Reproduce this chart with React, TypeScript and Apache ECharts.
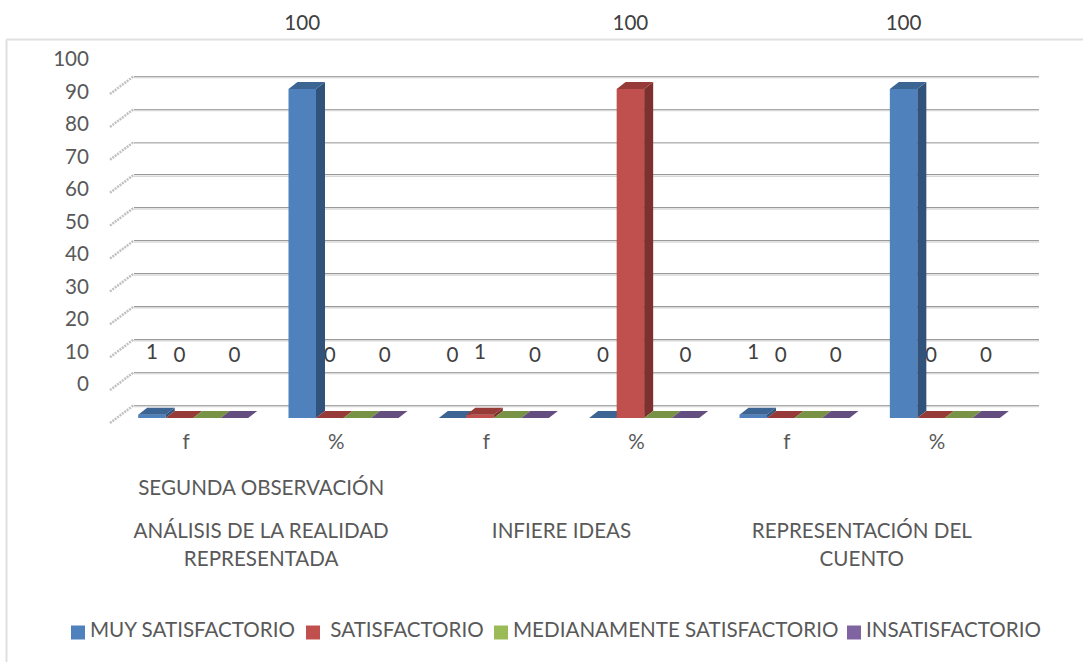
import React, { useEffect, useRef } from "react";
import * as echarts from "echarts";

const subCategories = ["f", "%", "f", "%", "f", "%"];
const groupLabels = ["ANÁLISIS DE LA REALIDAD\nREPRESENTADA", "INFIERE IDEAS", "REPRESENTACIÓN DEL\nCUENTO"];
const observationLabels = ["SEGUNDA OBSERVACIÓN", "", ""];
const yTicks = [0, 10, 20, 30, 40, 50, 60, 70, 80, 90, 100];

const muySatisfactorio = [1, 100, 0, 0, 1, 100];
const satisfactorio = [0, 0, 1, 100, 0, 0];
const medianamente = [0, 0, 0, 0, 0, 0];
const insatisfactorio = [0, 0, 0, 0, 0, 0];

const seriesNames = ["MUY SATISFACTORIO", " SATISFACTORIO", "MEDIANAMENTE SATISFACTORIO", "INSATISFACTORIO"];
const seriesValues = [muySatisfactorio, satisfactorio, medianamente, insatisfactorio];
const frontColors = ["#4F81BD", "#C0504D", "#9BBB59", "#8064A2"];
const sideColors = ["#31527B", "#7D302E", "#65793A", "#533F6B"];
const topColors = ["#3C6594", "#963B38", "#789346", "#644E80"];
const seriesHasLabels = [true, true, false, true];
const legendLefts = [66, 301, 489, 842];

const FONT = "Lato";
const BAR_W = 27.5;
const DX = 9;
const DY = 7;
const LABEL_LIFT = 64;

const barSeries = (si: number) => ({
  type: "custom",
  name: seriesNames[si],
  xAxisIndex: 0,
  yAxisIndex: 0,
  z: 5,
  itemStyle: { color: frontColors[si] },
  data: seriesValues[si].map((v, i) => [i, v]),
  renderItem: (_p: any, api: any) => {
    const [cx, top] = api.coord([api.value(0), api.value(1)]);
    const [, base] = api.coord([api.value(0), 0]);
    const x = cx - 2 * BAR_W + si * BAR_W;
    const w = BAR_W;
    const children: any[] = [];
    if (base - top > 0.5) {
      children.push({
        type: "rect",
        shape: { x, y: top, width: w, height: base - top },
        style: { fill: frontColors[si] },
      });
      children.push({
        type: "polygon",
        shape: { points: [[x + w, top], [x + w + DX, top - DY], [x + w + DX, base - DY], [x + w, base]] },
        style: { fill: sideColors[si] },
      });
    }
    children.push({
      type: "polygon",
      shape: { points: [[x, top], [x + DX, top - DY], [x + w + DX, top - DY], [x + w, top]] },
      style: { fill: topColors[si] },
    });
    return { type: "group", children };
  },
});

const labelSeries = (si: number) => ({
  type: "custom",
  xAxisIndex: 0,
  yAxisIndex: 0,
  z: 3,
  silent: true,
  data: seriesValues[si].map((v, i) => [i, v]),
  renderItem: (_p: any, api: any) => {
    const v = api.value(1);
    const [cx, top] = api.coord([api.value(0), v]);
    const x = cx - 2 * BAR_W + si * BAR_W + BAR_W / 2;
    return {
      type: "text",
      style: {
        x,
        y: top - LABEL_LIFT - (v === 100 ? 3 : 0),
        text: String(v),
        fill: "#404040",
        font: `20.6px ${FONT}`,
        align: "center",
        verticalAlign: "middle",
      },
    };
  },
});

const wallSeries = {
  type: "custom",
  xAxisIndex: 1,
  yAxisIndex: 1,
  z: 1,
  silent: true,
  data: yTicks.map((t) => [0, t]),
  renderItem: (params: any, api: any) => {
    const [, y] = api.coord([0, api.value(1)]);
    const x0 = params.coordSys.x;
    const x1 = x0 + params.coordSys.width;
    return {
      type: "group",
      children: [
        {
          type: "line",
          shape: { x1: x0, y1: y + 1.5, x2: x1, y2: y + 1.5 },
          style: { stroke: "#d8d8d8", lineWidth: 1.5 },
        },
        {
          type: "line",
          shape: { x1: x0 - 24, y1: y + 18, x2: x0, y2: y },
          style: { stroke: "#c0c0c0", lineWidth: 2.5, lineDash: [2, 1] },
        },
      ],
    };
  },
};

const hiddenAxis = { show: false };
const textStyle = { fontFamily: FONT, fontSize: 20.6, color: "#595959" };

export default function App() {
  const ref = useRef<HTMLDivElement>(null);
  useEffect(() => {
    document.body.style.margin = "0";
    const chart = echarts.init(ref.current!, undefined, { renderer: "svg" });
    chart.setOption({
      animation: false,
      backgroundColor: "#fff",
      grid: [
        { left: 118, width: 902, top: 89, height: 329 },
        { left: 134, width: 905, top: 76, height: 329 },
        { left: 40, width: 49, top: 58, height: 325 },
        { left: 111, width: 901, top: 418, height: 1 },
      ],
      xAxis: [
        { gridIndex: 0, type: "category", data: subCategories, ...hiddenAxis },
        { gridIndex: 1, type: "category", data: subCategories, ...hiddenAxis },
        { gridIndex: 2, type: "category", data: subCategories, ...hiddenAxis },
        {
          gridIndex: 3, type: "category", data: subCategories, position: "bottom",
          axisLine: { show: false }, axisTick: { show: false },
          axisLabel: { ...textStyle, margin: 11, interval: 0 },
        },
        {
          gridIndex: 3, type: "category", data: observationLabels, position: "bottom", offset: 57,
          axisLine: { show: false }, axisTick: { show: false },
          axisLabel: { ...textStyle, margin: 0, interval: 0 },
        },
        {
          gridIndex: 3, type: "category", data: groupLabels, position: "bottom", offset: 97,
          axisLine: { show: false }, axisTick: { show: false },
          axisLabel: { ...textStyle, margin: 0, interval: 0, lineHeight: 28 },
        },
      ],
      yAxis: [
        { gridIndex: 0, type: "value", min: 0, max: 100, ...hiddenAxis },
        {
          gridIndex: 1, type: "value", min: 0, max: 100, interval: 10,
          axisLine: { show: false }, axisTick: { show: false }, axisLabel: { show: false },
          splitLine: { show: true, lineStyle: { color: "#9a9a9a", width: 1 } },
        },
        {
          gridIndex: 2, type: "value", min: 0, max: 100, interval: 10, position: "right",
          axisLine: { show: false }, axisTick: { show: false }, splitLine: { show: false },
          axisLabel: { ...textStyle, inside: true, margin: 0 },
        },
        { gridIndex: 3, type: "value", ...hiddenAxis },
      ],
      legend: seriesNames.map((n, i) => ({
        data: [n],
        left: legendLefts[i],
        top: 613,
        icon: "rect",
        itemWidth: 14,
        itemHeight: 14,
        selectedMode: false,
        formatter: (name: string) => `{a|${name}}`,
        textStyle: {
          ...textStyle,
          rich: { a: { fontFamily: FONT, fontSize: 20.6, color: "#595959", padding: [0, 0, 8, 0] } },
        },
      })),
      graphic: [
        { type: "line", shape: { x1: 6.5, y1: 39.5, x2: 1083, y2: 39.5 }, style: { stroke: "#e0e0e0", lineWidth: 2 } },
        { type: "line", shape: { x1: 6.5, y1: 39.5, x2: 6.5, y2: 662 }, style: { stroke: "#e0e0e0", lineWidth: 2 } },
      ],
      series: [
        wallSeries,
        ...seriesHasLabels.flatMap((h, si) => (h ? [labelSeries(si)] : [])),
        ...seriesNames.map((_, si) => barSeries(si)),
      ],
    });
    return () => chart.dispose();
  }, []);
  return <div ref={ref} style={{ position: "fixed", left: 0, top: 0, width: 1083, height: 662 }} />;
}
